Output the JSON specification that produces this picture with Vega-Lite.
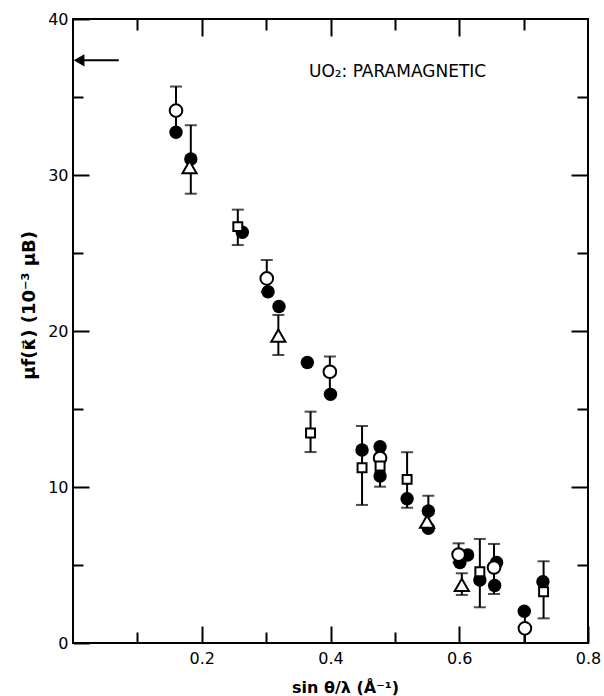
{
  "$schema": "https://vega.github.io/schema/vega-lite/v6.json",
  "width": 515,
  "height": 624,
  "autosize": {"type": "none"},
  "padding": {"left": 73, "top": 19, "right": 16, "bottom": 53},
  "background": "white",
  "config": {
    "view": {"stroke": "black", "strokeWidth": 2},
    "axis": {
      "grid": false,
      "domain": false,
      "tickColor": "black",
      "tickWidth": 2,
      "labelColor": "black",
      "titleColor": "black",
      "labelFont": "DejaVu Sans",
      "titleFont": "DejaVu Sans"
    }
  },
  "datasets": {
    "points": [
      {"x": 0.160, "y": 32.74, "m": "filled"},
      {"x": 0.183, "y": 31.03, "m": "filled"},
      {"x": 0.263, "y": 26.33, "m": "filled"},
      {"x": 0.303, "y": 22.52, "m": "filled"},
      {"x": 0.320, "y": 21.57, "m": "filled"},
      {"x": 0.364, "y": 17.98, "m": "filled"},
      {"x": 0.400, "y": 15.94, "m": "filled"},
      {"x": 0.449, "y": 12.37, "m": "filled"},
      {"x": 0.477, "y": 12.58, "m": "filled"},
      {"x": 0.477, "y": 10.71, "m": "filled"},
      {"x": 0.519, "y": 9.25, "m": "filled"},
      {"x": 0.552, "y": 8.46, "m": "filled"},
      {"x": 0.552, "y": 7.35, "m": "filled"},
      {"x": 0.613, "y": 5.64, "m": "filled"},
      {"x": 0.601, "y": 5.16, "m": "filled"},
      {"x": 0.632, "y": 4.04, "m": "filled"},
      {"x": 0.658, "y": 5.16, "m": "filled"},
      {"x": 0.655, "y": 3.69, "m": "filled"},
      {"x": 0.701, "y": 2.03, "m": "filled"},
      {"x": 0.730, "y": 3.93, "m": "filled"},
      {"x": 0.160, "y": 34.13, "m": "open"},
      {"x": 0.301, "y": 23.37, "m": "open"},
      {"x": 0.399, "y": 17.39, "m": "open"},
      {"x": 0.477, "y": 11.86, "m": "open"},
      {"x": 0.599, "y": 5.67, "m": "open"},
      {"x": 0.654, "y": 4.84, "m": "open"},
      {"x": 0.702, "y": 0.94, "m": "open"},
      {"x": 0.256, "y": 26.69, "m": "square"},
      {"x": 0.369, "y": 13.46, "m": "square"},
      {"x": 0.449, "y": 11.24, "m": "square"},
      {"x": 0.477, "y": 11.35, "m": "square"},
      {"x": 0.519, "y": 10.49, "m": "square"},
      {"x": 0.632, "y": 4.57, "m": "square"},
      {"x": 0.731, "y": 3.29, "m": "square"},
      {"x": 0.181, "y": 30.51, "m": "triangle"},
      {"x": 0.319, "y": 19.71, "m": "triangle"},
      {"x": 0.550, "y": 7.78, "m": "triangle"},
      {"x": 0.604, "y": 3.72, "m": "triangle"}
    ],
    "errors": [
      {"x": 0.160, "lo": 32.74, "hi": 35.67},
      {"x": 0.183, "lo": 28.80, "hi": 33.19},
      {"x": 0.256, "lo": 25.51, "hi": 27.78},
      {"x": 0.301, "lo": 22.52, "hi": 24.55},
      {"x": 0.319, "lo": 18.46, "hi": 21.03},
      {"x": 0.399, "lo": 15.94, "hi": 18.37},
      {"x": 0.369, "lo": 12.24, "hi": 14.83},
      {"x": 0.449, "lo": 8.85, "hi": 13.91},
      {"x": 0.477, "lo": 10.02, "hi": 12.58},
      {"x": 0.519, "lo": 8.67, "hi": 12.23},
      {"x": 0.552, "lo": 7.35, "hi": 9.44},
      {"x": 0.599, "lo": 5.16, "hi": 6.39},
      {"x": 0.604, "lo": 3.08, "hi": 4.47},
      {"x": 0.632, "lo": 2.29, "hi": 6.67},
      {"x": 0.654, "lo": 3.14, "hi": 6.35},
      {"x": 0.702, "lo": 0, "hi": 2.03},
      {"x": 0.731, "lo": 1.58, "hi": 5.24}
    ],
    "arrow": [
      {"x": 0.006, "x2": 0.071, "y": 37.35, "hx": 0.0095}
    ],
    "note": [
      {"x": 0.3665, "y": 36.6, "t": "UO₂:  PARAMAGNETIC"}
    ]
  },
  "layer": [
    {
      "data": {"name": "errors"},
      "mark": {"type": "rule", "color": "black", "strokeWidth": 2},
      "encoding": {
        "x": {"field": "x", "type": "quantitative", "scale": {"domain": [0, 0.8], "nice": false},
          "axis": {"orient": "bottom", "values": [0.2, 0.4, 0.6, 0.8], "format": ".1f", "tickSize": -17,
            "labelPadding": 24, "labelBaseline": "top", "labelFontSize": 16, "labelFlush": false,
            "title": "sin θ/λ (Å⁻¹)", "titleFontSize": 16, "titleFontWeight": "bold",
            "titleX": 272, "titleY": 44, "titleBaseline": "middle"}},
        "y": {"field": "lo", "type": "quantitative", "scale": {"domain": [0, 40], "nice": false},
          "axis": {"orient": "left", "values": [0, 10, 20, 30, 40], "tickSize": -16,
            "labelPadding": 21, "labelFontSize": 16, "labelFlush": false,
            "title": "μf(κ⃗) (10⁻³ μB)", "titleFontSize": 18, "titleFontWeight": "bold",
            "titleX": -44, "titleY": 286, "titleBaseline": "middle"}},
        "y2": {"field": "hi"}
      }
    },
    {
      "data": {"name": "errors"},
      "mark": {"type": "tick", "orient": "horizontal", "color": "black", "size": 12, "thickness": 2},
      "encoding": {
        "x": {"field": "x", "type": "quantitative", "scale": {"domain": [0, 0.8], "nice": false},
          "axis": {"orient": "bottom", "values": [0.1, 0.3, 0.5, 0.7], "tickSize": -11, "labels": false, "title": null}},
        "y": {"field": "lo", "type": "quantitative", "scale": {"domain": [0, 40], "nice": false},
          "axis": {"orient": "left", "values": [5, 15, 25, 35], "tickSize": -10, "labels": false, "title": null}}
      }
    },
    {
      "data": {"name": "errors"},
      "mark": {"type": "tick", "orient": "horizontal", "color": "black", "size": 12, "thickness": 2},
      "encoding": {
        "x": {"field": "x", "type": "quantitative", "scale": {"domain": [0, 0.8], "nice": false},
          "axis": {"orient": "top", "values": [0.2, 0.4, 0.6], "tickSize": -17, "labels": false, "title": null}},
        "y": {"field": "hi", "type": "quantitative", "scale": {"domain": [0, 40], "nice": false},
          "axis": {"orient": "right", "values": [10, 20, 30], "tickSize": -17, "labels": false, "title": null}}
      }
    },
    {
      "data": {"name": "points"},
      "transform": [{"filter": "datum.m === 'filled'"}],
      "mark": {"type": "point", "shape": "circle", "filled": true, "fill": "black", "stroke": null, "size": 180, "opacity": 1},
      "encoding": {
        "x": {"field": "x", "type": "quantitative", "scale": {"domain": [0, 0.8], "nice": false},
          "axis": {"orient": "top", "values": [0.1, 0.3, 0.5, 0.7], "tickSize": -11, "labels": false, "title": null}},
        "y": {"field": "y", "type": "quantitative", "scale": {"domain": [0, 40], "nice": false},
          "axis": {"orient": "right", "values": [5, 15, 25, 35], "tickSize": -11, "labels": false, "title": null}}
      }
    },
    {
      "data": {"name": "points"},
      "transform": [{"filter": "datum.m === 'open'"}],
      "mark": {"type": "point", "shape": "circle", "filled": true, "fill": "white", "stroke": "black", "strokeWidth": 2, "size": 160, "opacity": 1},
      "encoding": {
        "x": {"field": "x", "type": "quantitative", "scale": {"domain": [0, 0.8], "nice": false}, "axis": null},
        "y": {"field": "y", "type": "quantitative", "scale": {"domain": [0, 40], "nice": false}, "axis": null}
      }
    },
    {
      "data": {"name": "points"},
      "transform": [{"filter": "datum.m === 'square'"}],
      "mark": {"type": "point", "shape": "square", "filled": true, "fill": "white", "stroke": "black", "strokeWidth": 2, "size": 80, "opacity": 1},
      "encoding": {
        "x": {"field": "x", "type": "quantitative", "scale": {"domain": [0, 0.8], "nice": false}, "axis": null},
        "y": {"field": "y", "type": "quantitative", "scale": {"domain": [0, 40], "nice": false}, "axis": null}
      }
    },
    {
      "data": {"name": "points"},
      "transform": [{"filter": "datum.m === 'triangle'"}],
      "mark": {"type": "point", "shape": "triangle-up", "filled": true, "fill": "white", "stroke": "black", "strokeWidth": 2, "size": 200, "opacity": 1},
      "encoding": {
        "x": {"field": "x", "type": "quantitative", "scale": {"domain": [0, 0.8], "nice": false}, "axis": null},
        "y": {"field": "y", "type": "quantitative", "scale": {"domain": [0, 40], "nice": false}, "axis": null}
      }
    },
    {
      "data": {"name": "arrow"},
      "mark": {"type": "rule", "color": "black", "strokeWidth": 2},
      "encoding": {
        "x": {"field": "x", "type": "quantitative", "scale": {"domain": [0, 0.8], "nice": false}, "axis": null},
        "x2": {"field": "x2"},
        "y": {"field": "y", "type": "quantitative", "scale": {"domain": [0, 40], "nice": false}, "axis": null}
      }
    },
    {
      "data": {"name": "arrow"},
      "mark": {"type": "point", "shape": "triangle-left", "filled": true, "fill": "black", "size": 150, "opacity": 1},
      "encoding": {
        "x": {"field": "hx", "type": "quantitative", "scale": {"domain": [0, 0.8], "nice": false}, "axis": null},
        "y": {"field": "y", "type": "quantitative", "scale": {"domain": [0, 40], "nice": false}, "axis": null}
      }
    },
    {
      "data": {"name": "note"},
      "mark": {"type": "text", "align": "left", "baseline": "middle", "font": "DejaVu Sans", "fontSize": 17, "color": "black"},
      "encoding": {
        "x": {"field": "x", "type": "quantitative", "scale": {"domain": [0, 0.8], "nice": false}, "axis": null},
        "y": {"field": "y", "type": "quantitative", "scale": {"domain": [0, 40], "nice": false}, "axis": null},
        "text": {"field": "t"}
      }
    }
  ],
  "resolve": {"axis": {"x": "independent", "y": "independent"}}
}
